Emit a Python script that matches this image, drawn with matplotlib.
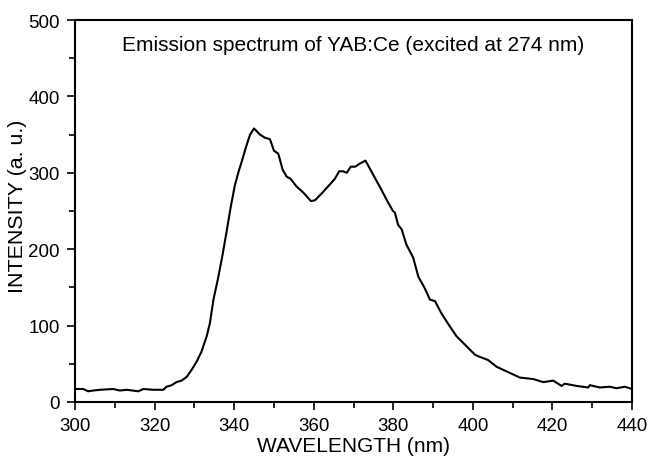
import matplotlib
matplotlib.use("Agg")
import matplotlib.pyplot as plt
from matplotlib.ticker import MultipleLocator

plt.rcParams["font.family"] = ["Liberation Sans", "DejaVu Sans"]

# emission spectrum, wavelength in nm vs intensity (a.u.)
wavelength = [300.0, 302.1, 303.3, 304.6, 306.3, 309.6, 311.3, 313.0, 315.9, 317.2,
              319.7, 322.2, 323.0, 324.3, 325.5, 326.8, 328.1, 329.3, 330.6, 331.8,
              333.1, 333.9, 334.8, 336.0, 337.1, 338.1, 339.2, 340.2, 341.2, 342.1,
              343.0, 344.0, 345.0, 346.5, 347.7, 349.0, 350.0, 351.1, 352.2, 353.2,
              354.2, 355.7, 357.4, 359.3, 360.3, 362.0, 364.1, 365.3, 366.4, 367.4,
              368.3, 369.3, 370.4, 371.6, 373.0, 374.9, 377.0, 378.3, 379.9, 380.4,
              381.2, 382.1, 383.3, 385.0, 386.3, 387.9, 389.2, 390.5, 392.1, 394.2,
              395.9, 398.4, 400.5, 401.3, 403.8, 406.0, 408.5, 411.8, 415.2, 417.7,
              420.2, 422.3, 423.1, 426.1, 429.0, 429.4, 431.9, 434.4, 436.1, 438.2,
              440.0]
intensity = [17, 17, 14, 15, 16, 17, 15, 16, 14, 17,
             16, 16, 20, 22, 26, 28, 33, 42, 53, 66,
             86, 103, 134, 163, 193, 223, 257, 284, 303, 318,
             334, 350, 358, 350, 346, 344, 329, 325, 304, 295,
             292, 282, 274, 263, 264, 273, 285, 292, 302, 302,
             300, 308, 308, 312, 316, 298, 278, 265, 250, 248,
             232, 226, 206, 189, 164, 149, 134, 132, 116, 99,
             86, 73, 62, 60, 55, 46, 40, 32, 30, 26,
             28, 21, 24, 21, 19, 22, 19, 20, 18, 20,
             17]

fig = plt.figure(figsize=(6.49, 4.60), dpi=100)
ax = fig.add_axes([75 / 649, 57 / 460, 557 / 649, 382 / 460])

ax.plot(wavelength, intensity, color="black", linewidth=1.5)

ax.set_xlim(300, 440)
ax.set_ylim(0, 500)
ax.xaxis.set_major_locator(MultipleLocator(20))
ax.xaxis.set_minor_locator(MultipleLocator(10))
ax.yaxis.set_major_locator(MultipleLocator(100))
ax.yaxis.set_minor_locator(MultipleLocator(50))
ax.tick_params(which="both", direction="out", width=1.2, labelsize=13.5, pad=5)
ax.tick_params(which="major", length=6)
ax.tick_params(which="minor", length=4)
for side in ax.spines.values():
    side.set_linewidth(1.5)

ax.set_xlabel("WAVELENGTH (nm)", fontsize=15, labelpad=1)
ax.set_ylabel("INTENSITY (a. u.)", fontsize=15.4)
ax.yaxis.set_label_coords(-0.086, 0.516)
ax.text(0.5, 0.935, "Emission spectrum of YAB:Ce (excited at 274 nm)",
        transform=ax.transAxes, ha="center", va="center", fontsize=15)

fig.savefig("out.png", dpi=100)
